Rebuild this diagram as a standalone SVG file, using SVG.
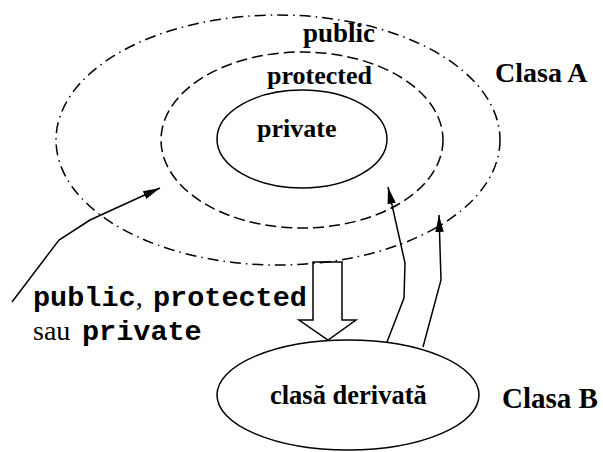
<svg xmlns="http://www.w3.org/2000/svg" width="603" height="452" viewBox="0 0 603 452">
<style>
.ln{fill:none;stroke:#000;stroke-width:1.5}
.lbl{font-family:'Liberation Serif',serif;font-weight:bold;fill:#000}
.mono{font-family:'Liberation Mono',monospace;font-weight:bold;font-size:28.5px;fill:#000}
.serif{font-family:'Liberation Serif',serif;font-weight:normal;font-size:28px;fill:#000}
</style>
<defs>
<marker id="ah" markerUnits="userSpaceOnUse" markerWidth="18" markerHeight="10" refX="17" refY="5" orient="auto">
<path d="M0,0.8 L17,5 L0,9.2 Z" fill="#000"/>
</marker>
</defs>
<rect width="603" height="452" fill="#fff"/>
<g id="classA">
<ellipse id="public-zone" class="ln" cx="278" cy="140" rx="222" ry="125" stroke-dasharray="11 5 1.5 5"/>
<ellipse id="protected-zone" class="ln" cx="302" cy="140" rx="141" ry="88" stroke-dasharray="11 5"/>
<ellipse id="private-zone" class="ln" cx="302" cy="139" rx="85" ry="49"/>
<text class="lbl" x="303" y="42" font-size="27">public</text>
<text class="lbl" x="267" y="84" font-size="26">protected</text>
<text class="lbl" x="257" y="137" font-size="26">private</text>
<text class="lbl" x="495" y="82" font-size="28">Clasa A</text>
</g>
<g id="classB">
<ellipse class="ln" cx="348" cy="395" rx="131" ry="55"/>
<text class="lbl" x="270" y="404" font-size="26.5">clasă derivată</text>
<text class="lbl" x="502" y="408" font-size="29">Clasa B</text>
</g>
<g id="inherit-label">
<text x="33" y="306"><tspan class="mono">public</tspan><tspan class="serif">, </tspan><tspan class="mono" x="153">protected</tspan></text>
<text x="33" y="340"><tspan class="serif">sau</tspan><tspan class="mono" x="82">private</tspan></text>
</g>
<g id="connectors">
<polygon class="ln" points="313,262 342,262 342,320 356,320 328,340 299,320 313,320" fill="#fff"/>
<polyline class="ln" points="12,302 59,240 90,220 160,188" marker-end="url(#ah)"/>
<polyline class="ln" points="387,342 404,298 405,263 388,187" marker-end="url(#ah)"/>
<polyline class="ln" points="423,347 441,280 439,215" marker-end="url(#ah)"/>
</g>
</svg>
